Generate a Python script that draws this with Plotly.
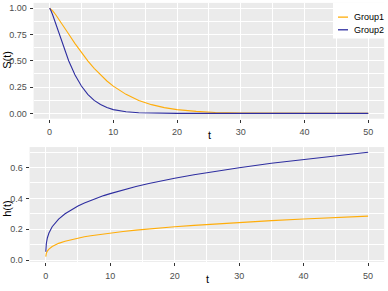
import plotly.graph_objects as go

# ---- data ----
t = [0.01, 0.03, 0.05, 0.1, 0.25, 0.5, 1, 1.5, 2, 3, 4, 5, 6, 7, 8, 9, 10,
     12, 14, 16, 18, 20, 23, 26, 30, 35, 40, 45, 50]

s_group1 = [1.000, 0.999, 0.999, 0.997, 0.989, 0.973, 0.935, 0.892, 0.846, 0.754,
            0.663, 0.578, 0.499, 0.428, 0.364, 0.308, 0.259, 0.181, 0.123, 0.083,
            0.055, 0.036, 0.019, 0.009, 0.004, 0.001, 0.000, 0.000, 0.000]
s_group2 = [1.000, 0.998, 0.997, 0.992, 0.973, 0.935, 0.847, 0.755, 0.664, 0.500,
            0.365, 0.260, 0.181, 0.124, 0.084, 0.055, 0.036, 0.015, 0.006, 0.002,
            0.001, 0.000, 0.000, 0.000, 0.000, 0.000, 0.000, 0.000, 0.000]

h_group1 = [0.022, 0.031, 0.036, 0.044, 0.058, 0.071, 0.088, 0.099, 0.108, 0.122,
            0.133, 0.143, 0.151, 0.158, 0.164, 0.170, 0.176, 0.185, 0.194, 0.202,
            0.209, 0.216, 0.225, 0.234, 0.244, 0.256, 0.266, 0.276, 0.285]
h_group2 = [0.054, 0.075, 0.088, 0.108, 0.143, 0.175, 0.216, 0.244, 0.266, 0.300,
            0.327, 0.350, 0.370, 0.387, 0.403, 0.418, 0.431, 0.455, 0.477, 0.496,
            0.514, 0.531, 0.553, 0.574, 0.599, 0.628, 0.653, 0.677, 0.699]

groups = ["Group1", "Group2"]
colors = ["#FFAD0A", "#2E2EA0"]

s_ticks = [0, 0.25, 0.5, 0.75, 1.0]
s_ticktext = ["0.00", "0.25", "0.50", "0.75", "1.00"]
h_ticks = [0, 0.2, 0.4, 0.6]
h_ticktext = ["0.0", "0.2", "0.4", "0.6"]
t_ticks = [0, 10, 20, 30, 40, 50]

W, H = 388, 291
FONT = "Liberation Sans, Arial, sans-serif"

fig = go.Figure()
for name, col, s, h in zip(groups, colors, [s_group1, s_group2], [h_group1, h_group2]):
    fig.add_trace(go.Scatter(x=t, y=s, mode="lines", name=name,
                             line=dict(color=col, width=1.1),
                             xaxis="x", yaxis="y", showlegend=False))
    fig.add_trace(go.Scatter(x=t, y=h, mode="lines", name=name,
                             line=dict(color=col, width=1.1),
                             xaxis="x2", yaxis="y2", showlegend=False))

common = dict(showgrid=True, gridcolor="white", gridwidth=1.1,
              zeroline=False, showline=False,
              ticks="outside", ticklen=3, tickwidth=1, tickcolor="#333333",
              tickfont=dict(size=9, color="#4D4D4D", family=FONT))

xminor = dict(dtick=5, tick0=0, showgrid=True, gridcolor="white", gridwidth=0.55, ticks="")

fig.update_layout(
    width=W, height=H, autosize=False,
    margin=dict(l=0, r=0, t=0, b=0),
    paper_bgcolor="white", plot_bgcolor="#EBEBEB",
    font=dict(family=FONT),
    xaxis=dict(domain=[33.6 / W, 384.2 / W], range=[-2.5, 52.5], anchor="y",
               tickvals=t_ticks, ticklabelstandoff=2, minor=xminor, **common),
    yaxis=dict(domain=[1 - 119.9 / H, 1 - 2.9 / H], range=[-0.05, 1.05], anchor="x",
               tickvals=s_ticks, ticktext=s_ticktext, ticklabelstandoff=1,
               minor=dict(dtick=0.125, tick0=0, showgrid=True, gridcolor="white", gridwidth=0.55, ticks=""),
               **common),
    xaxis2=dict(domain=[29.6 / W, 384.2 / W], range=[-2.5, 52.5], anchor="y2",
                tickvals=t_ticks, ticklabelstandoff=2, minor=xminor, **common),
    yaxis2=dict(domain=[1 - 264.6 / H, 1 - 148.6 / H], range=[-0.012, 0.733], anchor="x2",
                tickvals=h_ticks, ticktext=h_ticktext, ticklabelstandoff=1,
                minor=dict(dtick=0.1, tick0=0, showgrid=True, gridcolor="white", gridwidth=0.55, ticks=""),
                **common),
)

# axis titles
title_font = dict(size=11, color="black", family=FONT)
fig.add_annotation(text="S(t)", x=7.5 / W, y=1 - 61 / H, xref="paper", yref="paper",
                   textangle=-90, showarrow=False, font=title_font, xanchor="center", yanchor="middle")
fig.add_annotation(text="h(t)", x=7 / W, y=1 - 210 / H, xref="paper", yref="paper",
                   textangle=-90, showarrow=False, font=title_font, xanchor="center", yanchor="middle")
fig.add_annotation(text="t", x=209 / W, y=1 - 136 / H, xref="paper", yref="paper",
                   showarrow=False, font=title_font, xanchor="center", yanchor="middle")
fig.add_annotation(text="t", x=207 / W, y=1 - 282 / H, xref="paper", yref="paper",
                   showarrow=False, font=title_font, xanchor="center", yanchor="middle")

# legend (ggplot-style box with short keys)
fig.add_shape(type="rect", xref="paper", yref="paper",
              x0=333 / W, x1=385 / W, y0=1 - 39 / H, y1=1 - 3 / H,
              fillcolor="white", line=dict(width=0), layer="above")
for i, (name, col) in enumerate(zip(groups, colors)):
    yy = 1 - (17.3 + 12.8 * i) / H
    fig.add_shape(type="line", xref="paper", yref="paper",
                  x0=338 / W, x1=348 / W, y0=yy, y1=yy,
                  line=dict(color=col, width=1.3), layer="above")
    fig.add_annotation(text=name, x=352 / W, y=yy, xref="paper", yref="paper",
                       showarrow=False, xanchor="left", yanchor="middle",
                       font=dict(size=9, color="black", family=FONT))

fig.write_html("out.html", config={"displayModeBar": False},
               post_script="document.body.style.margin='0';")
